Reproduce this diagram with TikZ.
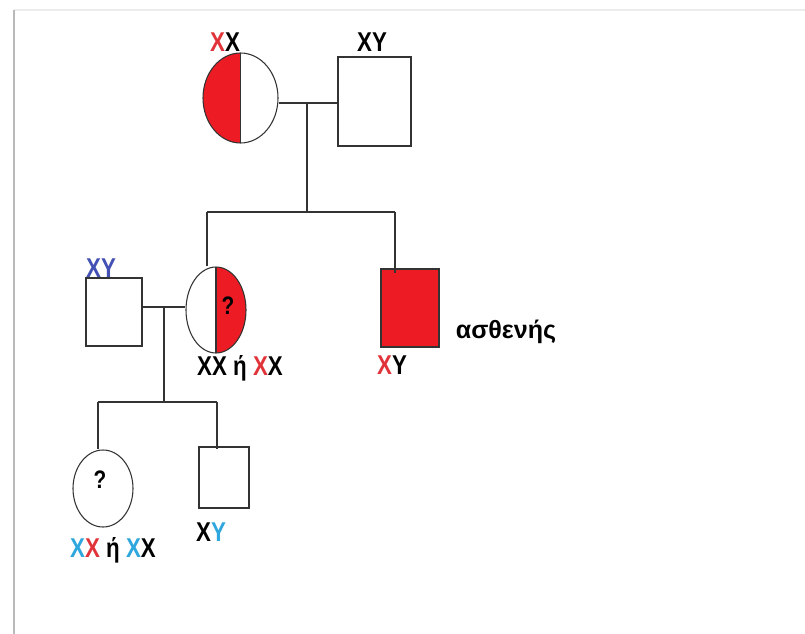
\documentclass[tikz,border=0pt]{standalone}
\usepackage{fontspec}
\setmainfont{Liberation Sans}
\newfontfamily\lblfont[FakeStretch=0.82]{Liberation Sans}
\usetikzlibrary{shapes.geometric}
\definecolor{fillred}{HTML}{ED1C24}
\definecolor{labred}{HTML}{E0343A}
\definecolor{labblue}{HTML}{4451B4}
\definecolor{lightblue}{HTML}{2EA6DE}
\definecolor{linegray}{HTML}{333333}
\tikzset{
  lbl/.style={inner sep=0pt, font=\lblfont\fontsize{20.4}{22}\selectfont\bfseries},
  word/.style={inner sep=0pt, font=\fontsize{18.8}{21}\selectfont\bfseries},
  qm/.style={inner sep=0pt, font=\lblfont\fontsize{19}{21}\selectfont\bfseries},
  female/.style={ellipse, draw=linegray, line width=0.8pt, inner sep=0pt},
  male/.style={rectangle, draw=linegray, line width=1.3pt, inner sep=0pt},
  conn/.style={draw=linegray, line width=1.2pt},
  lefthalf/.style={path picture={\fill[fillred] (path picture bounding box.south west) rectangle (path picture bounding box.north);
     \draw[linegray, line width=1pt] (path picture bounding box.south) -- (path picture bounding box.north);}},
  righthalf/.style={path picture={\fill[fillred] (path picture bounding box.south east) rectangle (path picture bounding box.north);
     \draw[linegray, line width=1pt] (path picture bounding box.south) -- (path picture bounding box.north);}},
}
\begin{document}
\begin{tikzpicture}[x=0.75pt,y=-0.75pt]
\useasboundingbox (0,0) rectangle (805,634);
\fill[white] (0,0) rectangle (805,634);
% frame edge
\draw[gray!15, line width=1.5pt] (14,10) -- (805,10);
\draw[gray!55, line width=1.8pt] (14,10) -- (14,634);

% generation 1
\node[female, lefthalf, minimum width=56.25pt, minimum height=67.5pt] (f1) at (240.5,98) {};
\node[male, minimum width=54.75pt, minimum height=66.75pt] (m1) at (374.5,101.5) {};
\coordinate (mar1) at (307,103);
\coordinate (sib1) at (307,212);
\coordinate (sibL) at (207,212);
\coordinate (sibR) at (395,212);
\draw[conn] (f1.east |- mar1) -- (m1.west |- mar1);
\draw[conn] (mar1) -- (sib1);
\draw[conn] (sibL) -- (sibR);

% generation 2
\node[male, minimum width=42pt, minimum height=51pt] (m2) at (114,312) {};
\node[female, righthalf, minimum width=45pt, minimum height=64.5pt] (f2) at (216,310) {};
\node[male, fill=fillred, minimum width=43.5pt, minimum height=58.5pt] (m3) at (410,308) {};
\draw[conn] (sibL) -- (sibL |- f2.north);
\draw[conn] (sibR) -- ([yshift=-4pt]sibR |- m3.north);
\coordinate (mar2) at (164,307);
\coordinate (sib2) at (164,402);
\coordinate (sib2L) at (98,402);
\coordinate (sib2R) at (217,402);
\draw[conn] (m2.east |- mar2) -- (f2.west |- mar2);
\draw[conn] (mar2) -- (sib2);
\draw[conn] (sib2L) -- (sib2R);

% generation 3
\node[female, minimum width=45pt, minimum height=57.75pt] (f3) at (103,488.5) {};
\node[male, minimum width=37.5pt, minimum height=45.75pt] (m4) at (224,477.5) {};
\draw[conn] (sib2L) -- (sib2L |- f3.north);
\draw[conn] (sib2R) -- ([yshift=-2pt]sib2R |- m4.north);

% labels
\node[lbl] (l1) at (225,42) {\textcolor{labred}{X}X};
\node[lbl] (l2) at (372,42) {XY};
\node[lbl, text=labblue] (l3) at (101,268) {XY};
\node[qm] (q1) at (228,306) {?};
\node[lbl] (l4) at (240,368) {XX ή \textcolor{labred}{X}X};
\node[word] (l5) at (506,332) {ασθενής};
\node[lbl] (l6) at (392,365) {\textcolor{labred}{X}Y};
\node[qm] (q2) at (100,480) {?};
\node[lbl] (l7) at (211,532) {X\textcolor{lightblue}{Y}};
\node[lbl] (l8) at (113,550) {\textcolor{lightblue}{X}\textcolor{labred}{X} ή \textcolor{lightblue}{X}X};
\end{tikzpicture}
\end{document}
